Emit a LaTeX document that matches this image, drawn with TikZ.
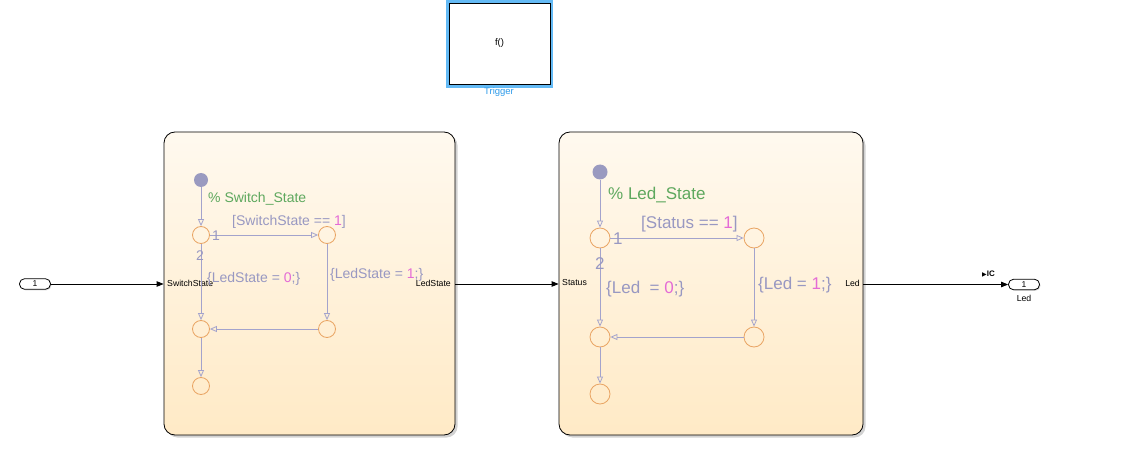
\documentclass[tikz,border=0pt]{standalone}
\usepackage{fontspec}
\setmainfont{Liberation Sans}
\newfontfamily\dejavu{DejaVu Sans}
\usetikzlibrary{arrows.meta,shadows}
\definecolor{junc}{HTML}{E9A463}
\definecolor{trc}{HTML}{A3A3CC}
\definecolor{dotc}{HTML}{9A9AC0}
\definecolor{lbl}{HTML}{9898C2}
\definecolor{num}{HTML}{E46BD6}
\definecolor{cmt}{HTML}{5EA85E}
\definecolor{ctop}{HTML}{FFF9EF}
\definecolor{cbot}{HTML}{FFEAC6}
\definecolor{trigblue}{HTML}{64BAF5}
\definecolor{triglbl}{HTML}{2E9BEA}
\tikzset{
  chart/.style={draw=black, line width=0.8pt, rounded corners=11pt, top color=ctop, bottom color=cbot,
    drop shadow={shadow xshift=2.5pt, shadow yshift=-2.5pt, opacity=0.35, fill=gray}, inner sep=0},
  jn/.style={circle, draw=junc, line width=0.8pt, minimum size=#1, inner sep=0},
  dflt/.style={circle, fill=dotc, minimum size=#1, inner sep=0},
  tr/.style={draw=trc, line width=0.8pt, -{Triangle[open, length=7pt, width=6pt]}},
  sig/.style={draw=black, line width=0.8pt, -{Triangle[length=7pt, width=5.5pt]}},
  plbl/.style={font=\fontsize{8.7}{10}\selectfont, inner sep=0},
  lA/.style={font=\fontsize{14}{16}\selectfont, text=lbl, inner sep=0, anchor=base west},
  lB/.style={font=\fontsize{17}{19}\selectfont, text=lbl, inner sep=0, anchor=base west},
  port/.style={draw=black, line width=0.8pt, rounded corners=5pt, minimum width=31pt, minimum height=10.5pt, inner sep=0, fill=white, font=\fontsize{8.5}{9}\selectfont,
    drop shadow={shadow xshift=1pt, shadow yshift=-1pt, opacity=0.3, fill=gray}},
}
\begin{document}
\begin{tikzpicture}[x=1pt,y=-1pt]
\useasboundingbox[fill=white] (0,0) rectangle (1126,465);

% Trigger block
\node[fill=trigblue, minimum width=107pt, minimum height=88pt, inner sep=0] (trigf) at (499.5,44) {};
\node[draw=black, fill=white, line width=0.9pt, minimum width=101pt, minimum height=81pt, inner sep=0, font=\fontsize{9.5}{10}\selectfont] (trig) at (499.5,43.5) {f()};
\node[font=\fontsize{9.5}{10}\selectfont, text=triglbl, inner sep=0] (trigl) at (499,92) {Trigger};

% Charts
\node[chart, minimum width=291pt, minimum height=303pt] (c1) at (309.5,283.5) {};
\node[chart, minimum width=304pt, minimum height=303pt] (c2) at (711,283.5) {};

% Ports
\node[port] (in) at (35,284) {1};
\node[port] (out) at (1024,284.5) {1};
\node[font=\fontsize{8.7}{10}\selectfont, inner sep=0] (outl) at (1024,298) {Led};
\node[font=\fontsize{8}{9}\selectfont\bfseries, inner sep=0, anchor=west] (ic) at (982,274) {{\dejavu\fontsize{6}{7}\selectfont ▶}IC};

\node[plbl, anchor=west] (p1) at (167,283) {SwitchState};
\node[plbl, anchor=east] (p2) at (451,283) {LedState};
\node[plbl, anchor=west] (p3) at (562,283) {Status};
\node[plbl, anchor=east] (p4) at (860,283) {Led};

\draw[sig] (in.east) -- (in.east -| c1.west);
\draw[sig] (c1.east |- in.east) -- (c2.west |- in.east);
\draw[sig] (c2.east |- out.west) -- (out.west);

% Chart 1 contents
\node[dflt=14pt] (d1) at (201,180) {};
\node[jn=17pt] (a1) at (201,235) {};
\node[jn=17pt] (b1) at (327,235) {};
\node[jn=17pt] (cc1) at (327,329) {};
\node[jn=17pt] (dd1) at (201,329) {};
\node[jn=17pt] (e1) at (201,386) {};
\draw[tr] (d1) -- (a1);
\draw[tr] (a1) -- (b1);
\draw[tr] (b1) -- (cc1);
\draw[tr] (cc1) -- (dd1);
\draw[tr] (a1) -- (dd1);
\draw[tr] (dd1) -- (e1);
\node[lA, text=cmt] (t1) at (208,203) {\% Switch\_State};
\node[lA] (t2) at (232,225) {[SwitchState == \textcolor{num}{1}]};
\node[lA] (t3) at (212,240) {1};
\node[lA] (t4) at (196,260) {2};
\node[lA] (t5) at (207,282) {\{LedState = \textcolor{num}{0};\}};
\node[lA] (t6) at (330,278) {\{LedState = \textcolor{num}{1};\}};

% Chart 2 contents
\node[dflt=15pt] (d2) at (600,172) {};
\node[jn=20pt] (a2) at (600,238) {};
\node[jn=20pt] (b2) at (754,238) {};
\node[jn=20pt] (cc2) at (754,337) {};
\node[jn=20pt] (dd2) at (600,337) {};
\node[jn=20pt] (e2) at (600,394) {};
\draw[tr] (d2) -- (a2);
\draw[tr] (a2) -- (b2);
\draw[tr] (b2) -- (cc2);
\draw[tr] (cc2) -- (dd2);
\draw[tr] (a2) -- (dd2);
\draw[tr] (dd2) -- (e2);
\node[lB, text=cmt] (u1) at (608,199) {\% Led\_State};
\node[lB] (u2) at (641,228) {[Status == \textcolor{num}{1}]};
\node[lB] (u3) at (613,244) {1};
\node[lB] (u4) at (595,269) {2};
\node[lB] (u5) at (606,293) {\{Led\ \ = \textcolor{num}{0};\}};
\node[lB] (u6) at (758,289) {\{Led = \textcolor{num}{1};\}};
\end{tikzpicture}
\end{document}
